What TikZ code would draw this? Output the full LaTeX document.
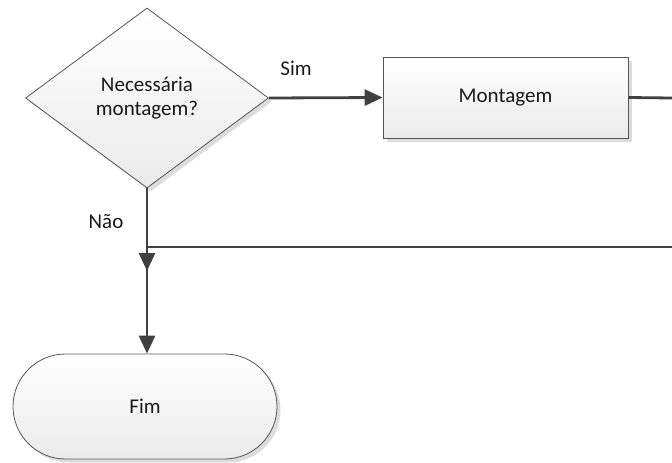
\documentclass[tikz,border=0pt]{standalone}
\usepackage{fontspec}
\setmainfont{Carlito}
\usetikzlibrary{shapes.geometric,arrows.meta,shadows,decorations.markings}
\definecolor{flowline}{HTML}{404040}
\definecolor{shapeedge}{HTML}{555555}
\definecolor{shadowgray}{HTML}{DCDCDC}
\begin{document}
\begin{tikzpicture}[x=1pt,y=-1pt,
  every node/.style={font=\fontsize{21}{24}\selectfont, text=black!90},
  boxbase/.style={draw=shapeedge, line width=0.8pt, top color=white, bottom color=black!8,
    drop shadow={shadow xshift=3.5pt, shadow yshift=-3.5pt, fill=shadowgray, opacity=1}},
  decision/.style={boxbase, diamond, minimum width=243pt, minimum height=180pt, inner sep=0pt, align=center},
  process/.style={boxbase, rectangle, minimum width=245pt, minimum height=81pt, inner sep=0pt},
  terminal/.style={boxbase, rectangle, rounded corners=52.5pt, minimum width=264pt, minimum height=105pt, inner sep=0pt},
  flow/.style={draw=flowline, line width=2.8pt},
  tip/.style={-{Triangle[length=18pt,width=16pt]}},
  lbl/.style={inner sep=0pt}
]
\useasboundingbox (0,0) rectangle (672,463);

% shapes
\node[decision] (need) at (147,98) {Necessária\\montagem?};
\node[process] (mont) at (505.5,97.5) {Montagem};
\node[terminal] (fim) at (145,406.5) {Fim};

% free ends at the right border
\coordinate (montOut) at (672,98);
\coordinate (backIn) at (672,247);
\coordinate (join) at (need.south |- backIn);

% connectors
\draw[flow, tip] (need.east) -- (mont.west);
\draw[flow] (mont.east) -- (montOut);
\draw[flow] (backIn) -- (join);
\draw[flow, tip, postaction={decorate, decoration={markings,
    mark=at position 0.5 with {\arrow{Triangle[length=18pt,width=16pt]}}}}]
  (need.south) -- (need.south |- fim.north);

% labels
\node[lbl] (sim) at (296,68) {Sim};
\node[lbl] (nao) at (106,222) {Não};
\end{tikzpicture}
\end{document}
